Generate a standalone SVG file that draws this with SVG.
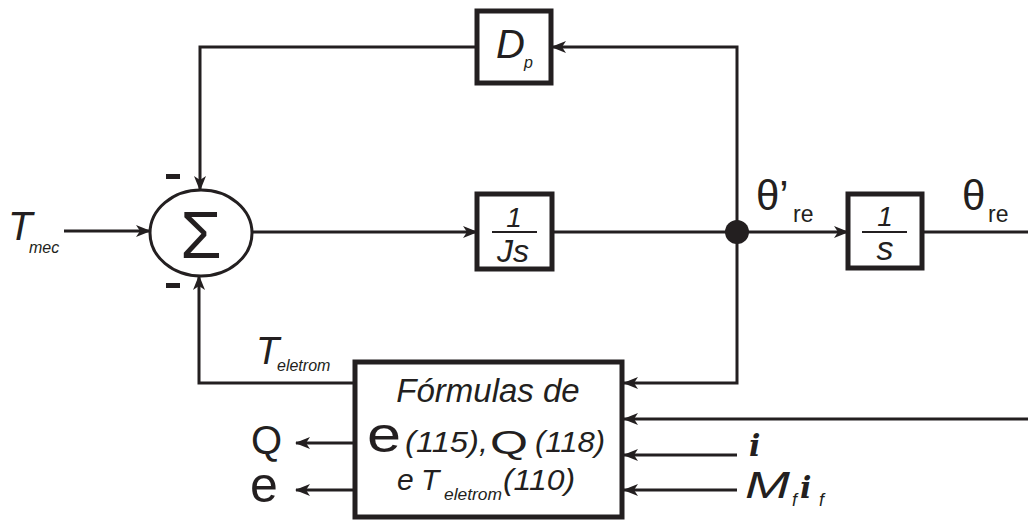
<svg xmlns="http://www.w3.org/2000/svg" width="1028" height="520" viewBox="0 0 1028 520">
<style>
.ln{fill:none;stroke:#231f20;stroke-width:3}
.bx{fill:#fff;stroke:#231f20;stroke-width:5}
.t{font-family:"Liberation Sans",Arial,sans-serif;fill:#231f20}
.it{font-style:italic}
.mi{font-family:"DejaVu Serif",serif;font-style:italic;font-weight:bold;fill:#231f20}
</style>
<defs>
<marker id="ah" markerUnits="userSpaceOnUse" markerWidth="16" markerHeight="12" refX="14" refY="6" orient="auto">
<path d="M0,0 L15,6 L0,12 L4,6 Z" fill="#231f20"/>
</marker>
</defs>
<rect width="1028" height="520" fill="#fff"/>
<g id="connectors">
<path class="ln" d="M64,231 H150" marker-end="url(#ah)"/>
<path class="ln" d="M252,232 H477" marker-end="url(#ah)"/>
<path class="ln" d="M552,232 H737"/>
<path class="ln" d="M737,232 H848" marker-end="url(#ah)"/>
<path class="ln" d="M922,232 H1028"/>
<path class="ln" d="M737,232 V47 H552" marker-end="url(#ah)"/>
<path class="ln" d="M477,47 H200 V190" marker-end="url(#ah)"/>
<path class="ln" d="M737,232 V383 H624" marker-end="url(#ah)"/>
<path class="ln" d="M1028,419 H624" marker-end="url(#ah)"/>
<path class="ln" d="M737,455 H624" marker-end="url(#ah)"/>
<path class="ln" d="M737,490 H624" marker-end="url(#ah)"/>
<path class="ln" d="M353,383 H199 V276" marker-end="url(#ah)"/>
<path class="ln" d="M353,443 H296" marker-end="url(#ah)"/>
<path class="ln" d="M353,490 H296" marker-end="url(#ah)"/>
<circle cx="737" cy="232" r="12" fill="#231f20"/>
</g>
<g id="sum">
<ellipse cx="201" cy="233" rx="51" ry="43" fill="#fff" stroke="#231f20" stroke-width="3"/>
<text class="t" x="201" y="258" font-size="67" text-anchor="middle">Σ</text>
<rect x="166" y="174" width="14" height="5" fill="#231f20"/>
<rect x="166" y="283" width="14" height="5" fill="#231f20"/>
</g>
<g id="tmec">
<text class="t it" x="8" y="240" font-size="40">T</text>
<text class="t it" x="29" y="253" font-size="16">mec</text>
</g>
<g id="dp">
<rect class="bx" x="477" y="11" width="74" height="72"/>
<text class="t it" x="496" y="58" font-size="40">D</text>
<text class="t it" x="524" y="68" font-size="16">p</text>
</g>
<g id="js">
<rect class="bx" x="477" y="194" width="75" height="75"/>
<text class="t it" x="514" y="227" font-size="28" text-anchor="middle">1</text>
<line x1="492" y1="232" x2="537" y2="232" stroke="#231f20" stroke-width="2"/>
<text class="t it" x="513" y="262" font-size="32" text-anchor="middle">Js</text>
</g>
<g id="integ">
<rect class="bx" x="848" y="194" width="74" height="74"/>
<text class="t it" x="885" y="226" font-size="28" text-anchor="middle">1</text>
<line x1="862" y1="232" x2="907" y2="232" stroke="#231f20" stroke-width="2"/>
<text class="t it" x="885" y="260" font-size="34" text-anchor="middle">s</text>
</g>
<g id="thetaprime">
<text class="t" x="756" y="210" font-size="42">θ’</text>
<text class="t" x="793" y="222" font-size="23">re</text>
</g>
<g id="theta">
<text class="t" x="962" y="210" font-size="42">θ</text>
<text class="t" x="988" y="222" font-size="23">re</text>
</g>
<g id="teletrom">
<text class="t it" x="256" y="364" font-size="38">T</text>
<text class="t it" x="277" y="371" font-size="16">eletrom</text>
</g>
<g id="formulas">
<rect class="bx" x="355" y="362" width="267" height="155"/>
<text class="t it" x="488" y="402" font-size="33" text-anchor="middle">Fórmulas de</text>
<text class="t" x="367" y="452" font-size="50" textLength="34" lengthAdjust="spacingAndGlyphs">e</text>
<text class="t it" x="405" y="452" font-size="30" textLength="83" lengthAdjust="spacingAndGlyphs">(115),</text>
<text class="t" x="490" y="454" font-size="34" textLength="38" lengthAdjust="spacingAndGlyphs">Q</text>
<text class="t it" x="535" y="452" font-size="30" textLength="70" lengthAdjust="spacingAndGlyphs">(118)</text>
<text class="t it" x="397" y="490" font-size="30">e</text>
<text class="t it" x="421" y="490" font-size="30">T</text>
<text class="t it" x="444" y="500" font-size="16" textLength="58" lengthAdjust="spacingAndGlyphs">eletrom</text>
<text class="t it" x="503" y="490" font-size="29" textLength="72" lengthAdjust="spacingAndGlyphs">(110)</text>
</g>
<g id="outputs">
<text class="t" x="251" y="454" font-size="40">Q</text>
<text class="t" x="250" y="502" font-size="50">e</text>
</g>
<g id="inputs">
<text class="mi" x="749" y="456" font-size="30">i</text>
<text class="t it" x="745" y="498" font-size="37" textLength="45" lengthAdjust="spacingAndGlyphs">M</text>
<text class="t it" x="792" y="506" font-size="18">f</text>
<text class="mi" x="800" y="498" font-size="30">i</text>
<text class="t it" x="819" y="506" font-size="18">f</text>
</g>
</svg>
